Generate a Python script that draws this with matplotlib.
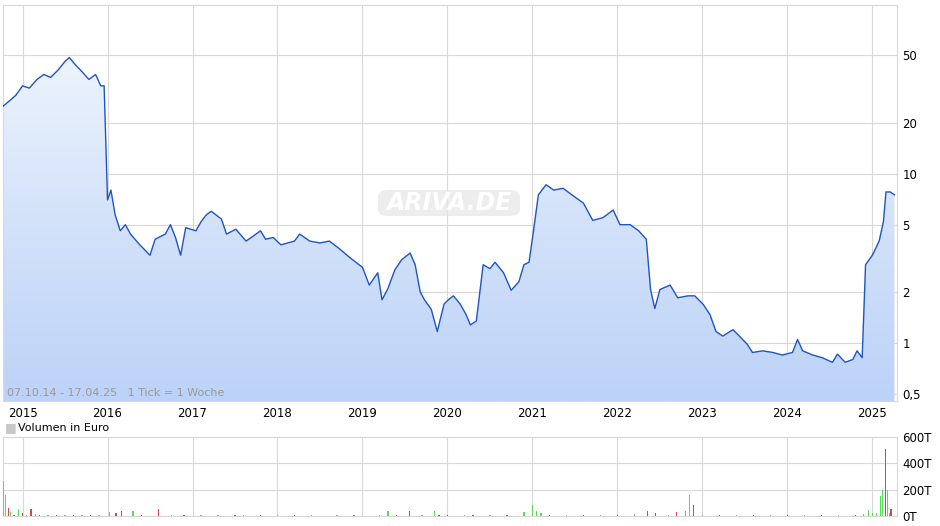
import matplotlib
matplotlib.use("Agg")
import matplotlib.pyplot as plt
import numpy as np
from matplotlib.colors import LinearSegmentedColormap
from matplotlib.patches import FancyBboxPatch

# price data: (decimal year, price EUR)
price_points = [
    (2014.77,25),(2014.85,27),(2014.92,29),(2015.0,33),(2015.08,32),(2015.17,36),(2015.25,38.5),(2015.33,37),
    (2015.42,41),(2015.5,46),(2015.55,48.5),(2015.62,44),(2015.7,40),(2015.78,36),(2015.86,38.5),(2015.92,33),(2015.96,33),
    (2016.0,7.0),(2016.04,8.0),(2016.09,5.7),(2016.15,4.6),(2016.21,5.0),(2016.27,4.4),(2016.38,3.8),(2016.5,3.3),
    (2016.56,4.1),(2016.68,4.4),(2016.74,5.0),(2016.8,4.2),(2016.86,3.3),(2016.92,4.8),(2017.04,4.6),(2017.1,5.2),
    (2017.16,5.7),(2017.22,6.0),(2017.34,5.4),(2017.4,4.4),(2017.51,4.7),(2017.63,4.0),(2017.72,4.3),(2017.8,4.6),
    (2017.86,4.1),(2017.95,4.2),(2018.04,3.8),(2018.2,4.0),(2018.26,4.4),(2018.38,4.0),(2018.5,3.9),(2018.61,4.0),
    (2018.73,3.6),(2018.85,3.2),(2018.96,2.9),(2019.0,2.8),(2019.08,2.2),(2019.18,2.6),(2019.23,1.8),(2019.3,2.1),
    (2019.38,2.7),(2019.46,3.1),(2019.56,3.4),(2019.62,2.9),(2019.68,2.0),(2019.73,1.8),(2019.81,1.58),(2019.88,1.17),
    (2019.96,1.7),(2020.01,1.8),(2020.07,1.9),(2020.15,1.7),(2020.22,1.47),(2020.27,1.28),(2020.34,1.35),(2020.42,2.9),
    (2020.5,2.75),(2020.56,3.0),(2020.66,2.6),(2020.75,2.05),(2020.84,2.3),(2020.9,2.9),(2020.96,3.0),(2021.01,4.5),
    (2021.07,7.5),(2021.16,8.6),(2021.25,8.0),(2021.36,8.2),(2021.48,7.4),(2021.6,6.7),(2021.71,5.3),(2021.83,5.5),
    (2021.95,6.1),(2022.03,5.0),(2022.15,5.0),(2022.25,4.6),(2022.34,4.1),(2022.39,2.07),(2022.44,1.6),(2022.5,2.07),
    (2022.62,2.2),(2022.71,1.85),(2022.83,1.9),(2022.91,1.9),(2023.01,1.69),(2023.09,1.47),(2023.16,1.17),(2023.24,1.1),
    (2023.36,1.2),(2023.42,1.12),(2023.53,0.98),(2023.59,0.88),(2023.71,0.9),(2023.83,0.88),(2023.94,0.85),(2024.06,0.88),
    (2024.12,1.05),(2024.18,0.9),(2024.3,0.85),(2024.41,0.82),(2024.53,0.77),(2024.59,0.86),(2024.68,0.77),(2024.77,0.8),
    (2024.82,0.9),(2024.88,0.82),(2024.92,2.9),(2025.0,3.3),(2025.08,4.0),(2025.13,5.2),(2025.16,7.8),(2025.21,7.8),(2025.26,7.5),
]
px_x = [p[0] for p in price_points]
px_y = [p[1] for p in price_points]

# weekly volume (decimal year, T EUR, colour g=up r=down)
volume_points = [
    (2014.78,266,"g"),(2014.80,160,"g"),(2014.83,60,"r"),(2014.86,30,"g"),(2014.9,10,"r"),(2014.95,50,"g"),
    (2015.0,20,"r"),(2015.05,10,"g"),(2015.1,50,"r"),(2015.15,15,"g"),(2015.2,10,"r"),(2015.3,8,"g"),
    (2015.4,10,"r"),(2015.5,8,"g"),(2015.6,10,"r"),(2015.7,8,"g"),(2015.8,6,"r"),(2015.9,10,"g"),
    (2016.02,30,"g"),(2016.1,20,"r"),(2016.16,35,"r"),(2016.3,40,"g"),(2016.4,10,"r"),(2016.6,50,"r"),
    (2016.75,8,"g"),(2016.9,6,"r"),(2017.1,8,"g"),(2017.3,6,"g"),(2017.5,6,"r"),(2017.6,10,"g"),
    (2017.8,5,"r"),(2018.0,6,"g"),(2018.2,8,"r"),(2018.4,6,"g"),(2018.7,6,"g"),(2018.9,6,"r"),
    (2019.2,10,"g"),(2019.3,40,"g"),(2019.4,10,"r"),(2019.55,35,"r"),(2019.7,10,"g"),(2019.85,40,"g"),
    (2019.9,10,"r"),(2020.0,8,"r"),(2020.2,10,"g"),(2020.3,8,"r"),(2020.5,8,"g"),(2020.7,10,"r"),
    (2020.9,30,"g"),(2021.0,85,"g"),(2021.05,40,"g"),(2021.1,20,"g"),(2021.2,10,"r"),(2021.4,10,"g"),
    (2021.6,8,"r"),(2021.8,8,"g"),(2022.0,10,"r"),(2022.2,12,"g"),(2022.35,40,"r"),(2022.45,20,"r"),
    (2022.6,10,"g"),(2022.7,30,"r"),(2022.8,40,"g"),(2022.85,160,"g"),(2022.9,80,"r"),(2023.0,10,"g"),
    (2023.2,8,"r"),(2023.4,8,"g"),(2023.6,10,"r"),(2023.8,8,"g"),(2024.0,6,"r"),(2024.2,10,"g"),
    (2024.4,8,"r"),(2024.6,10,"g"),(2024.8,8,"r"),(2024.9,12,"g"),(2024.95,45,"g"),(2025.0,20,"g"),
    (2025.05,25,"g"),(2025.1,150,"g"),(2025.12,200,"g"),(2025.15,510,"r"),(2025.18,196,"g"),(2025.2,25,"g"),(2025.22,55,"r"),
]
vol_x = [p[0] for p in volume_points]
vol_v = [p[1] for p in volume_points]
vol_c = [p[2] for p in volume_points]

years = list(range(2015, 2026))
price_ticks = [0.5, 1, 2, 5, 10, 20, 50]
price_labels = ["0,5", "1", "2", "5", "10", "20", "50"]
vol_ticks = [0, 200, 400, 600]
vol_labels = ["0T", "200T", "400T", "600T"]

fig = plt.figure(figsize=(9.4, 5.26), dpi=100)
ax = fig.add_axes([3/940, 1-401/526, 894/940, 396/526])
xmin, xmax = 2014.77, 2025.29
ymin, ymax = 0.455, 99
ax.set_yscale("log")
ax.set_xlim(xmin, xmax); ax.set_ylim(ymin, ymax)

fb = ax.fill_between(px_x, px_y, 0.01, color="none", lw=0)
cmap = LinearSegmentedColormap.from_list("g", ["#bcd2f7", "#d6e4fa", "#f4f8fe"])
grad = np.linspace(0, 1, 256).reshape(-1, 1)
im = ax.imshow(grad, cmap=cmap, origin="lower", aspect="auto",
               extent=[0, 1, 0, 1], transform=ax.transAxes, zorder=1)
im.set_clip_path(fb.get_paths()[0], transform=ax.transData)
ax.set_xlim(xmin, xmax); ax.set_ylim(ymin, ymax)
ax.plot(px_x, px_y, color="#1f55c0", lw=1.0, zorder=3)

ax.set_xticks(years)
ax.set_xticklabels([str(y) for y in years], fontsize=8.5)
ax.set_yticks(price_ticks)
ax.set_yticklabels(price_labels, fontsize=8.5)
ax.minorticks_off()
ax.yaxis.tick_right()
ax.tick_params(length=0, pad=4)
ax.grid(True, color="#d8d8d8", lw=0.8, zorder=0)
ax.set_axisbelow(True)
for s in ax.spines.values():
    s.set_color("#d8d8d8")

ax.text(0.004, 0.012, "07.10.14 - 17.04.25   1 Tick = 1 Woche", transform=ax.transAxes,
        fontsize=8, color="#999999", zorder=5)
box = FancyBboxPatch((378/940, 1-216/526), 142/940, 26/526, boxstyle="round,pad=0,rounding_size=0.012",
                     transform=fig.transFigure, fc="#e6e6e6", ec="none", alpha=0.7, zorder=4)
fig.patches.append(box)
fig.text(449/940, 1-203/526, "ARIVA.DE", fontsize=17, style="italic", fontweight="bold",
         color="white", ha="center", va="center", zorder=6)

fig.text(5/940, 1-428/526, "\u25a0", fontsize=9, color="#c8c8c8", va="center")
fig.text(18/940, 1-428/526, "Volumen in Euro", fontsize=8, va="center")

vx = fig.add_axes([3/940, 10/526, 894/940, 79/526])
vx.set_xlim(xmin, xmax)
vx.set_ylim(0, 600)
cols = {"g": "#55dd55", "r": "#dd4444"}
vx.bar(vol_x, vol_v, width=0.014, color=[cols[c] for c in vol_c], lw=0, zorder=3)
vx.set_xticks(years); vx.set_xticklabels([])
vx.set_yticks(vol_ticks); vx.set_yticklabels(vol_labels, fontsize=8.5)
vx.yaxis.tick_right()
vx.tick_params(length=0, pad=4)
vx.grid(True, color="#d8d8d8", lw=0.8, zorder=0)
for s in vx.spines.values():
    s.set_color("#d8d8d8")

fig.savefig("out.png", dpi=100)
